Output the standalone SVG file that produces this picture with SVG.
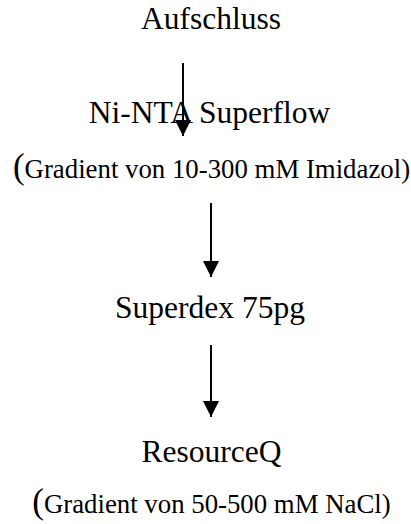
<svg xmlns="http://www.w3.org/2000/svg" width="411" height="524" viewBox="0 0 411 524">
<style>
.t{font-family:"Liberation Serif","Times New Roman",serif;fill:#000;text-anchor:middle}
.m{font-size:31.5px}
.s{font-size:26.8px}
.p{font-size:35px}
.c{stroke:#000;stroke-width:2;fill:none}
</style>
<defs>
<marker id="ah" markerUnits="userSpaceOnUse" markerWidth="16" markerHeight="17" refX="16" refY="8" orient="auto">
<path d="M0,0 L16,8 L0,16 Z" fill="#000"/>
</marker>
</defs>
<rect width="411" height="524" fill="#fff"/>
<g id="connectors">
<line class="c" x1="183" y1="63" x2="183" y2="136" marker-end="url(#ah)"/>
<line class="c" x1="211" y1="203" x2="211" y2="277" marker-end="url(#ah)"/>
<line class="c" x1="211" y1="345" x2="211" y2="417" marker-end="url(#ah)"/>
</g>
<g id="aufschluss"><text class="t m" x="211" y="29">Aufschluss</text></g>
<g id="ninta">
<text class="t m" x="209.5" y="123">Ni-NTA Superflow</text>
<text class="t s" x="211.5" y="178"><tspan class="p">(</tspan>Gradient von 10-300 mM Imidazol)</text>
</g>
<g id="superdex"><text class="t m" x="210" y="318">Superdex 75pg</text></g>
<g id="resourceq">
<text class="t m" x="211.5" y="462">ResourceQ</text>
<text class="t s" x="211.5" y="513"><tspan class="p">(</tspan>Gradient von 50-500 mM NaCl)</text>
</g>
</svg>
